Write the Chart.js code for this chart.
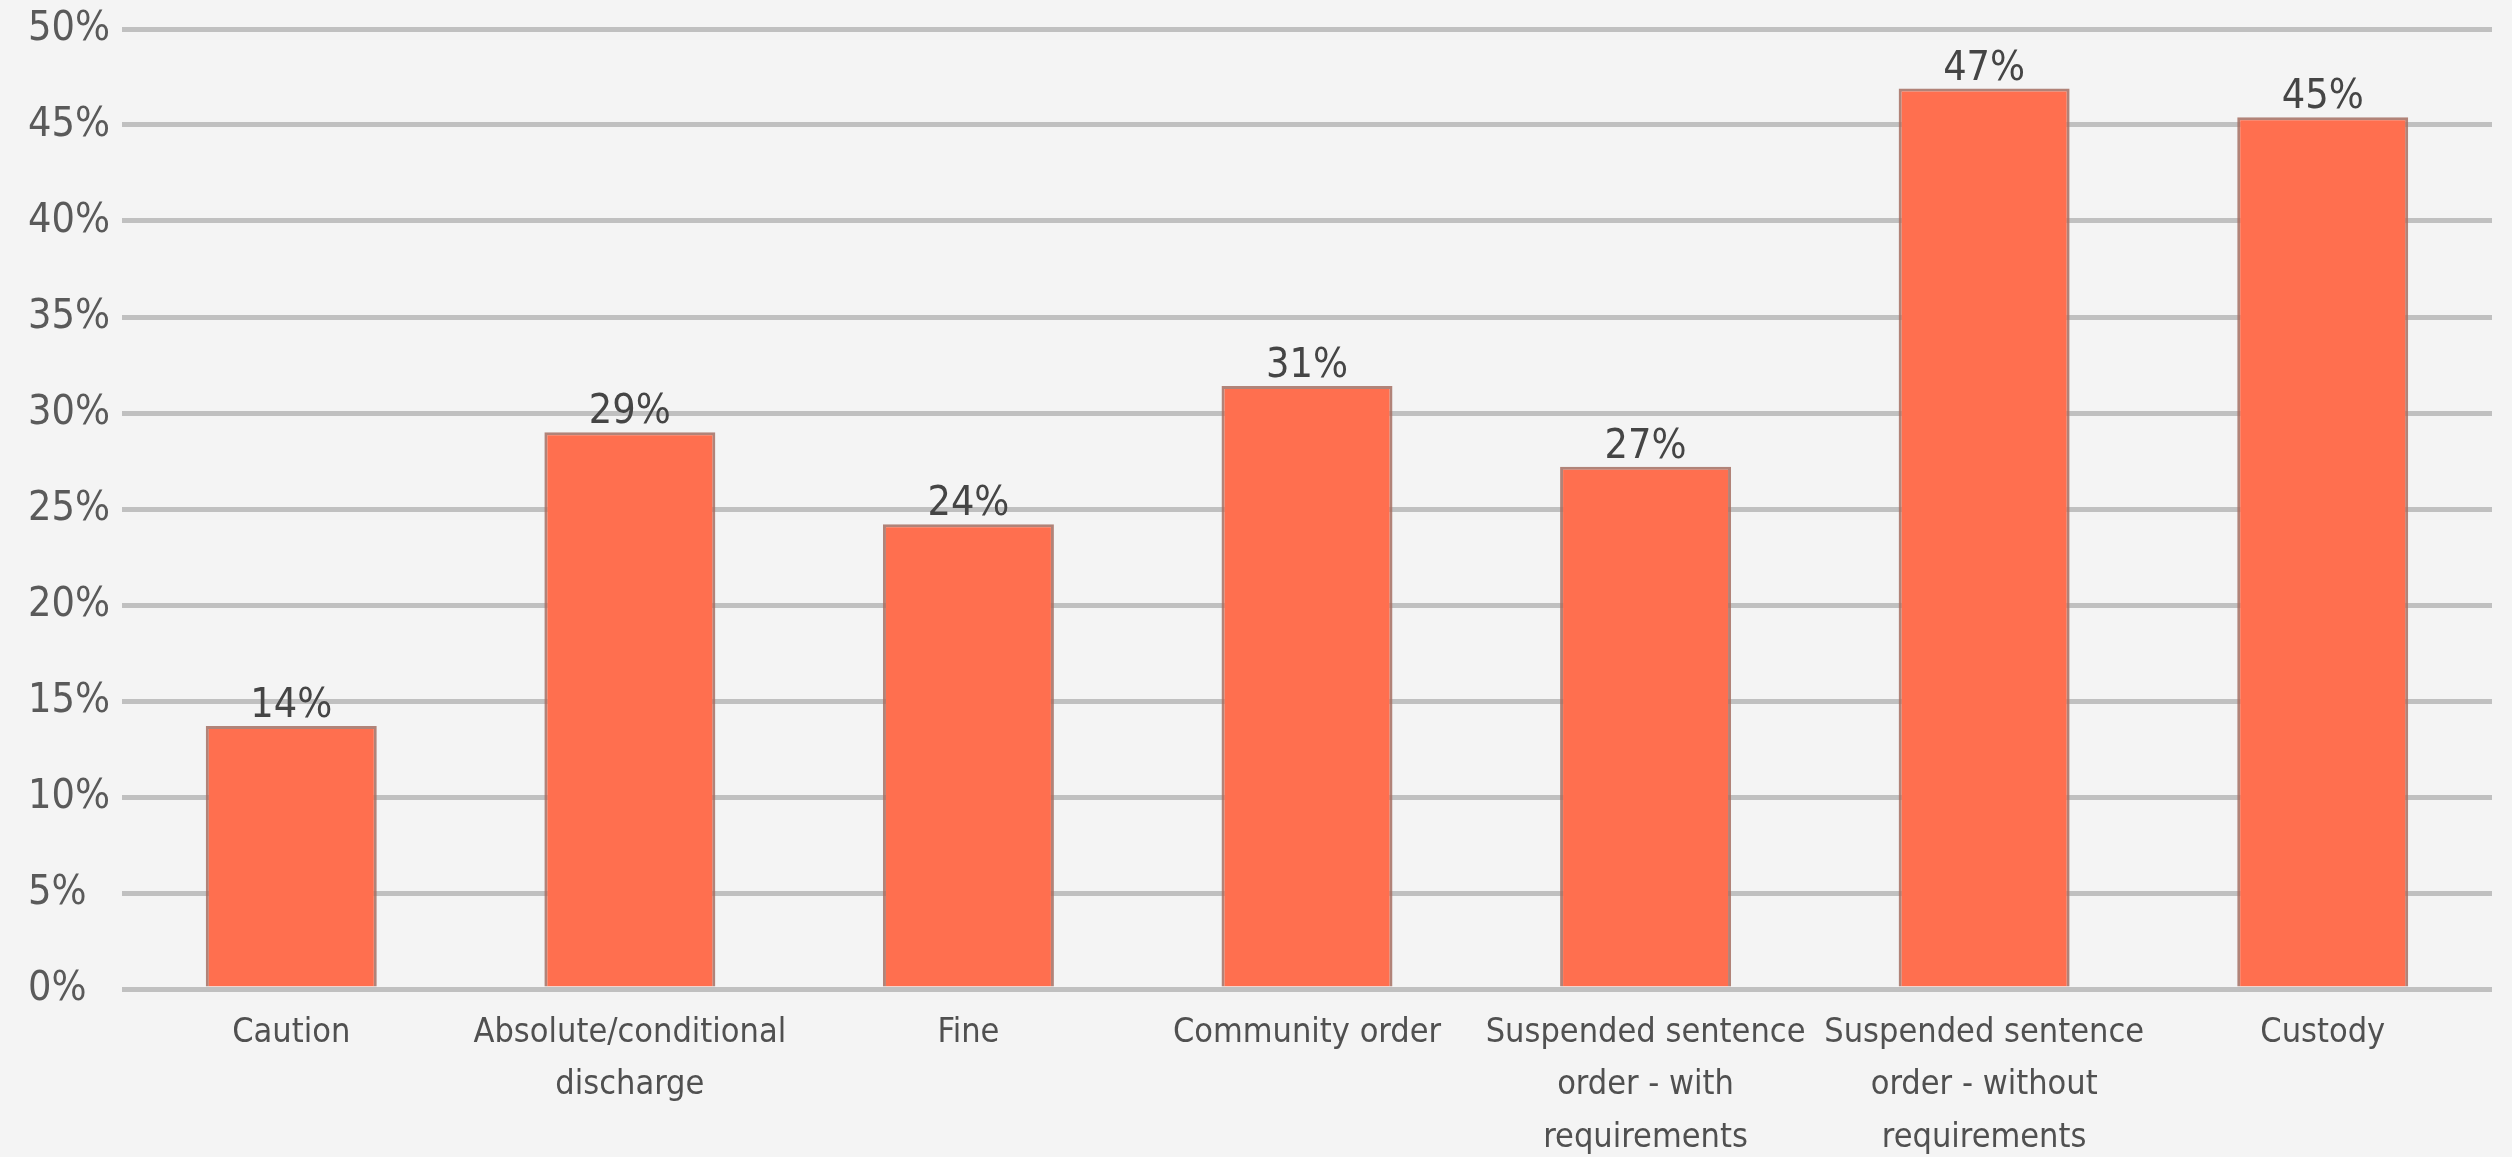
<!DOCTYPE html>
<html>
<head>
<meta charset="utf-8">
<script src="https://cdn.jsdelivr.net/npm/chart.js@4"></script>
<style>
  html, body { margin: 0; padding: 0; background: #f4f4f4; }
  #wrap { width: 2512px; height: 1157px; position: relative; }
</style>
</head>
<body>
<div id="wrap"><canvas id="sentenceChart"></canvas></div>
<script>
// 처분 유형별 비율 (%)
const categories = [
    ['Caution'],
    ['Absolute/conditional', 'discharge'],
    ['Fine'],
    ['Community order'],
    ['Suspended sentence', 'order - with', 'requirements'],
    ['Suspended sentence', 'order - without', 'requirements'],
    ['Custody']
];
const values = [13.7, 29.0, 24.2, 31.4, 27.2, 46.9, 45.4];
const yTicks = [0, 5, 10, 15, 20, 25, 30, 35, 40, 45, 50];

const FONT = '"DejaVu Sans Condensed", "Liberation Sans", sans-serif';

// 막대 위 값 라벨
const valueLabels = {
    id: 'valueLabels',
    afterDatasetsDraw(chart) {
        const ctx = chart.ctx;
        const meta = chart.getDatasetMeta(0);
        ctx.save();
        ctx.font = '41px ' + FONT;
        ctx.fillStyle = '#454545';
        ctx.textAlign = 'center';
        ctx.textBaseline = 'alphabetic';
        meta.data.forEach((bar, i) => {
            ctx.fillText(Math.round(values[i]) + '%', bar.x, bar.y - 9);
        });
        ctx.restore();
    }
};

new Chart(document.getElementById('sentenceChart').getContext('2d'), {
    type: 'bar',
    data: {
        labels: categories,
        datasets: [{
            data: values,
            backgroundColor: '#ff6f4f',
            borderColor: 'rgba(165,110,98,0.85)',
            borderWidth: 3,
            categoryPercentage: 1.0,
            barPercentage: 0.505
        }]
    },
    options: {
        responsive: true,
        maintainAspectRatio: false,
        animation: false,
        devicePixelRatio: 1,
        layout: { padding: { left: 28, right: 20, top: 29, bottom: 0 } },
        plugins: {
            legend: { display: false },
            tooltip: { enabled: false }
        },
        scales: {
            x: {
                afterFit: axis => { axis.height = 168; },
                grid: { display: false, drawTicks: false },
                border: { display: false },
                ticks: {
                    color: '#505050',
                    font: { family: FONT, size: 34, lineHeight: 1.54 },
                    padding: 18,
                    maxRotation: 0,
                    autoSkip: false
                }
            },
            y: {
                min: 0,
                max: 50,
                afterBuildTicks: axis => { axis.ticks = yTicks.map(v => ({ value: v })); },
                afterFit: axis => { axis.width = 94; },
                grid: { color: '#c0c0c0', lineWidth: 5, drawTicks: false },
                border: { display: false },
                ticks: {
                    color: '#5a5a5a',
                    crossAlign: 'far',
                    padding: 0,
                    font: { family: FONT, size: 41 },
                    callback: v => v + '%'
                }
            }
        }
    },
    plugins: [valueLabels]
});
</script>
</body>
</html>
